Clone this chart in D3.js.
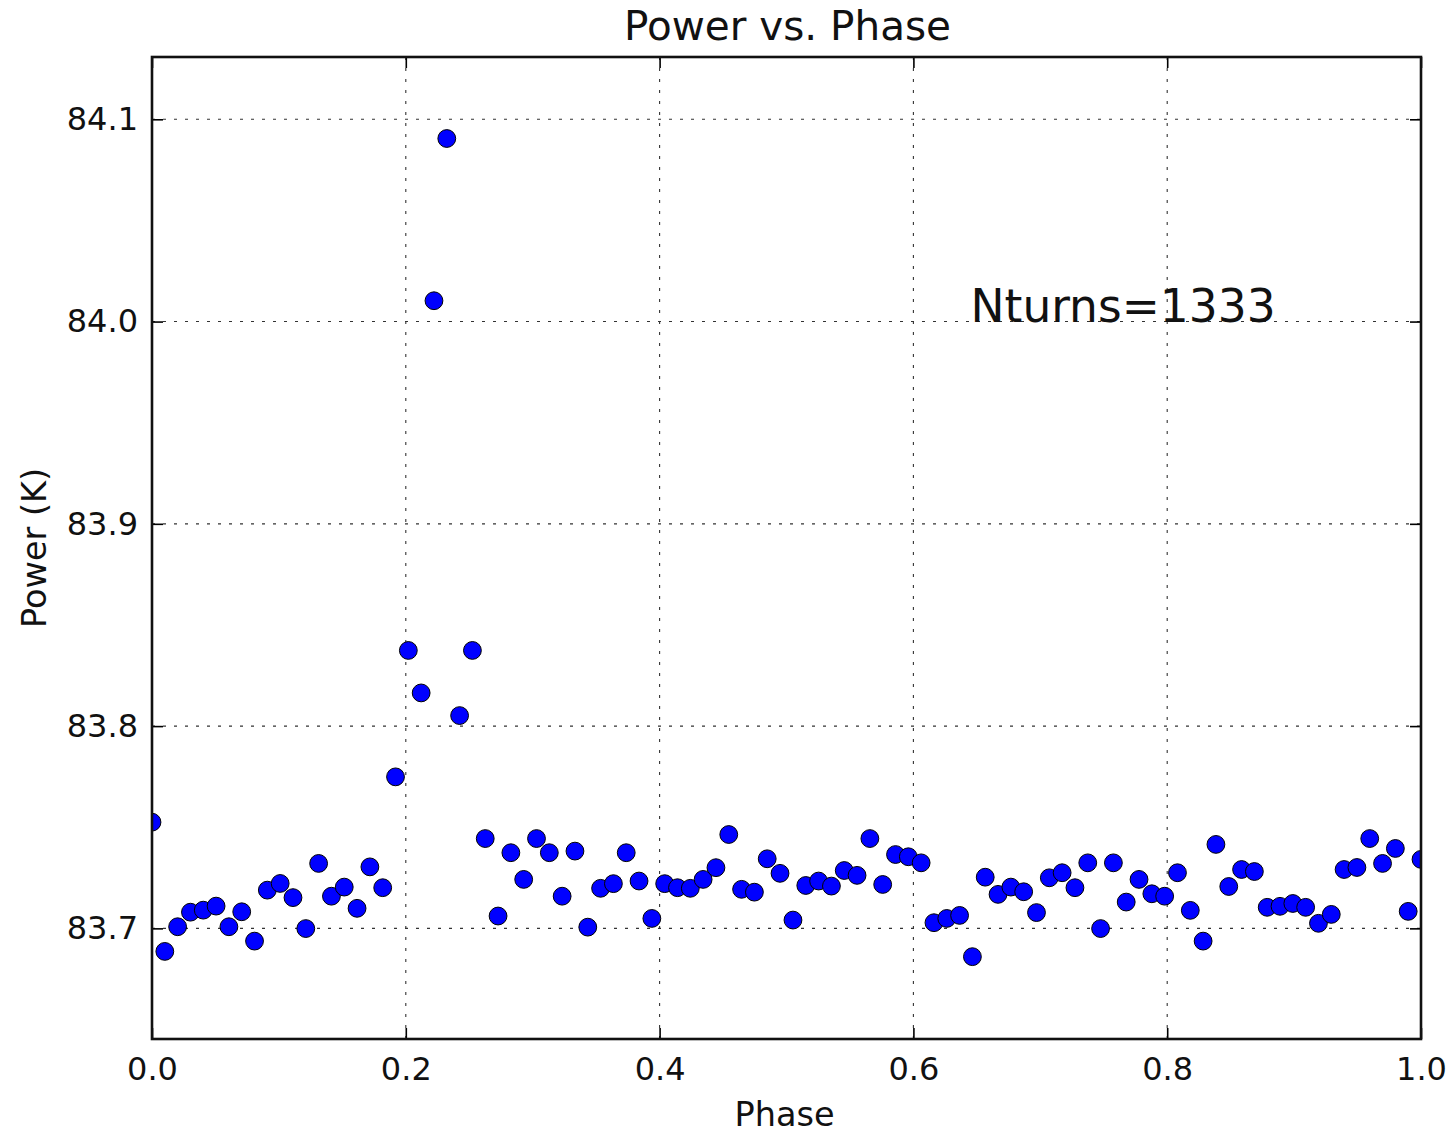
<!DOCTYPE html>
<html>
<head>
<meta charset="utf-8">
<script src="https://cdn.jsdelivr.net/npm/d3@7"></script>
<style>
  html, body { margin: 0; padding: 0; background: #ffffff; }
  svg { display: block; font-family: "DejaVu Sans", sans-serif; }
</style>
</head>
<body>
<svg id="chart" width="1455" height="1135"></svg>
<script>
// Phase bins (100 evenly spaced bins over one turn)
const phase = [
  0.0000, 0.0101, 0.0202, 0.0303, 0.0404, 0.0505, 0.0606, 0.0707, 0.0808, 0.0909,
  0.1010, 0.1111, 0.1212, 0.1313, 0.1414, 0.1515, 0.1616, 0.1717, 0.1818, 0.1919,
  0.2020, 0.2121, 0.2222, 0.2323, 0.2424, 0.2525, 0.2626, 0.2727, 0.2828, 0.2929,
  0.3030, 0.3131, 0.3232, 0.3333, 0.3434, 0.3535, 0.3636, 0.3737, 0.3838, 0.3939,
  0.4040, 0.4141, 0.4242, 0.4343, 0.4444, 0.4545, 0.4646, 0.4747, 0.4848, 0.4949,
  0.5051, 0.5152, 0.5253, 0.5354, 0.5455, 0.5556, 0.5657, 0.5758, 0.5859, 0.5960,
  0.6061, 0.6162, 0.6263, 0.6364, 0.6465, 0.6566, 0.6667, 0.6768, 0.6869, 0.6970,
  0.7071, 0.7172, 0.7273, 0.7374, 0.7475, 0.7576, 0.7677, 0.7778, 0.7879, 0.7980,
  0.8081, 0.8182, 0.8283, 0.8384, 0.8485, 0.8586, 0.8687, 0.8788, 0.8889, 0.8990,
  0.9091, 0.9192, 0.9293, 0.9394, 0.9495, 0.9596, 0.9697, 0.9798, 0.9899, 1.0000
];

// Mean power in each phase bin (K)
const power = [
  83.7525, 83.6886, 83.7008, 83.7080, 83.7090, 83.7110, 83.7008, 83.7082, 83.6937, 83.7189,
  83.7222, 83.7152, 83.6999, 83.7321, 83.7159, 83.7204, 83.7099, 83.7304, 83.7201, 83.7749,
  83.8374, 83.8164, 84.0103, 84.0905, 83.8052, 83.8374, 83.7444, 83.7061, 83.7374, 83.7242,
  83.7444, 83.7374, 83.7159, 83.7382, 83.7006, 83.7198, 83.7221, 83.7374, 83.7234, 83.7049,
  83.7221, 83.7201, 83.7198, 83.7242, 83.7300, 83.7464, 83.7193, 83.7179, 83.7344, 83.7272,
  83.7041, 83.7212, 83.7234, 83.7209, 83.7286, 83.7262, 83.7444, 83.7217, 83.7365, 83.7354,
  83.7324, 83.7028, 83.7049, 83.7064, 83.6860, 83.7253, 83.7168, 83.7204, 83.7181, 83.7078,
  83.7250, 83.7275, 83.7201, 83.7324, 83.6999, 83.7324, 83.7130, 83.7242, 83.7171, 83.7159,
  83.7275, 83.7089, 83.6937, 83.7415, 83.7207, 83.7291, 83.7281, 83.7104, 83.7109, 83.7123,
  83.7104, 83.7025, 83.7069, 83.7291, 83.7301, 83.7444, 83.7321, 83.7395, 83.7084, 83.7341
];

const xTicks = [0.0, 0.2, 0.4, 0.6, 0.8, 1.0];
const yTicks = [83.7, 83.8, 83.9, 84.0, 84.1];
const xDomain = [0, 1];
const yDomain = [83.6453, 84.1308];

const titleText = "Power vs. Phase";
const xLabel = "Phase";
const yLabel = "Power (K)";
const noteText = "Nturns=1333";
const notePos = [0.645, 84.0];

// Layout
const W = 1455, H = 1135;
const plot = { left: 152, right: 1421, top: 57, bottom: 1039 };
const tickFont = 32;
const labelFont = 33.5;
const tickLen = 11;

const svg = d3.select("#chart");
svg.append("rect").attr("width", W).attr("height", H).attr("fill", "#ffffff");

const x = d3.scaleLinear().domain(xDomain).range([plot.left, plot.right]);
const y = d3.scaleLinear().domain(yDomain).range([plot.bottom, plot.top]);

svg.append("defs").append("clipPath").attr("id", "plot-clip")
  .append("rect")
  .attr("x", plot.left).attr("y", plot.top)
  .attr("width", plot.right - plot.left).attr("height", plot.bottom - plot.top);

// Dotted grid
const grid = svg.append("g").attr("class", "grid")
  .attr("stroke", "#333").attr("stroke-width", 1.1)
  .attr("stroke-dasharray", "3,8").attr("fill", "none");
grid.selectAll("line.gx").data(xTicks).join("line").attr("class", "gx")
  .attr("x1", d => x(d)).attr("x2", d => x(d))
  .attr("y1", plot.top).attr("y2", plot.bottom);
grid.selectAll("line.gy").data(yTicks).join("line").attr("class", "gy")
  .attr("x1", plot.left).attr("x2", plot.right)
  .attr("y1", d => y(d)).attr("y2", d => y(d));

// Data points
const pts = phase.map((p, i) => ({ p, v: power[i] }));
svg.append("g").attr("clip-path", "url(#plot-clip)")
  .selectAll("circle").data(pts).join("circle")
  .attr("cx", d => x(d.p))
  .attr("cy", d => y(d.v))
  .attr("r", 8.9)
  .attr("fill", "#0000ff")
  .attr("stroke", "#000000")
  .attr("stroke-width", 1);

// Axes with inward ticks on all four sides
function styleAxis(g) {
  g.select(".domain").remove();
  g.selectAll(".tick line").attr("stroke", "#000").attr("stroke-width", 1.6);
  g.selectAll(".tick text").attr("fill", "#111")
    .attr("font-size", tickFont).attr("font-family", "DejaVu Sans, sans-serif");
}

svg.append("g").attr("transform", `translate(0,${plot.bottom})`)
  .call(d3.axisBottom(x).tickValues(xTicks).tickFormat(d3.format(".1f"))
    .tickSizeInner(-tickLen).tickSizeOuter(0).tickPadding(18))
  .call(styleAxis);

svg.append("g").attr("transform", `translate(0,${plot.top})`)
  .call(d3.axisTop(x).tickValues(xTicks).tickFormat("")
    .tickSizeInner(-tickLen).tickSizeOuter(0))
  .call(styleAxis);

svg.append("g").attr("transform", `translate(${plot.left},0)`)
  .call(d3.axisLeft(y).tickValues(yTicks).tickFormat(d3.format(".1f"))
    .tickSizeInner(-tickLen).tickSizeOuter(0).tickPadding(14))
  .call(styleAxis);

svg.append("g").attr("transform", `translate(${plot.right},0)`)
  .call(d3.axisRight(y).tickValues(yTicks).tickFormat("")
    .tickSizeInner(-tickLen).tickSizeOuter(0))
  .call(styleAxis);

// Frame
svg.append("rect")
  .attr("x", plot.left).attr("y", plot.top)
  .attr("width", plot.right - plot.left).attr("height", plot.bottom - plot.top)
  .attr("fill", "none").attr("stroke", "#111").attr("stroke-width", 2.6);

// Title and axis labels
svg.append("text")
  .attr("x", (plot.left + plot.right) / 2 + 1).attr("y", 40)
  .attr("text-anchor", "middle").attr("font-size", 40.5).attr("fill", "#111")
  .text(titleText);

svg.append("text")
  .attr("x", (plot.left + plot.right) / 2 - 2).attr("y", 1126)
  .attr("text-anchor", "middle").attr("font-size", labelFont).attr("fill", "#111")
  .text(xLabel);

svg.append("text")
  .attr("transform", `translate(46,${(plot.top + plot.bottom) / 2}) rotate(-90)`)
  .attr("text-anchor", "middle").attr("font-size", labelFont).attr("fill", "#111")
  .text(yLabel);

// Annotation
svg.append("text")
  .attr("x", x(notePos[0])).attr("y", y(notePos[1]))
  .attr("font-size", 45.5).attr("fill", "#111")
  .text(noteText);
</script>
</body>
</html>
